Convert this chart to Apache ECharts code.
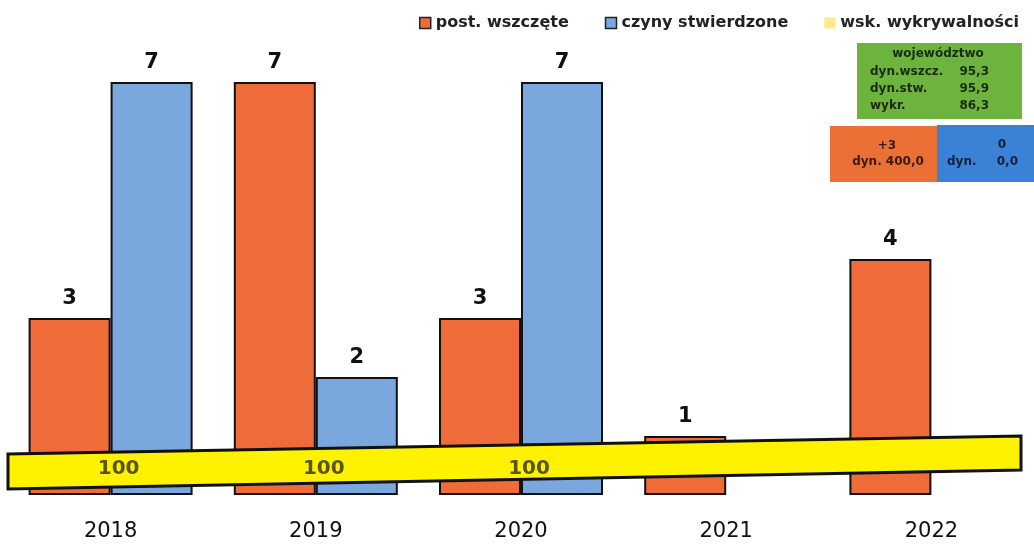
<!DOCTYPE html>
<html><head><meta charset="utf-8">
<script src="https://cdn.jsdelivr.net/npm/echarts@6/dist/echarts.min.js"></script>
<style>html,body{margin:0;padding:0;background:#fff}#c{width:1034px;height:544px}</style>
</head><body><div id="c"></div>
<script>
const years = ['2018','2019','2020','2021','2022'];
const postWszczete = [3, 7, 3, 1, 4];
const czynyStwierdzone = [7, 2, 7, null, null];
const wskWykrywalnosci = [100, 100, 100, null, null];
const seriesNames = ['post. wszczęte', 'czyny stwierdzone', 'wsk. wykrywalności'];
const regionTitle = 'województwo';
const regionRows = [['dyn.wszcz.', '95,3'], ['dyn.stw.', '95,9'], ['wykr.', '86,3']];
const changePost = ['+3', 'dyn. 400,0'];
const changeCzyny = ['0', 'dyn.', '0,0'];

const RED = '#ef6b3a', BLUE = '#7ba7df', YELLOW = '#fff200';
const chart = echarts.init(document.getElementById('c'));
const font = 'DejaVu Sans';
const boxFont = 'bold 12px "DejaVu Sans"';
chart.setOption({
  animation: false,
  textStyle: { fontFamily: font },
  legend: {
    right: 10, top: 10, itemGap: 36, itemWidth: 11, itemHeight: 11, itemSymbolTextGap: 4,
    textStyle: { fontSize: 16, fontWeight: 'bold', color: '#222', fontFamily: font },
    data: [
      { name: seriesNames[0], icon: 'rect', itemStyle: { color: RED, borderColor: '#222', borderWidth: 1.5 } },
      { name: seriesNames[1], icon: 'rect', itemStyle: { color: BLUE, borderColor: '#222', borderWidth: 1.5 } },
      { name: seriesNames[2], icon: 'rect', itemStyle: { color: '#ffe46a', borderWidth: 0 } }
    ]
  },
  grid: { left: 8, width: 1030, top: 23, bottom: 49 },
  xAxis: {
    type: 'category', data: years,
    axisLine: { show: false }, axisTick: { show: false },
    axisLabel: { fontSize: 21, color: '#111', margin: 26, fontFamily: font }
  },
  yAxis: [
    { type: 'value', min: 0, max: 8, show: false },
    { type: 'value', min: 0, max: 1700, show: false }
  ],
  graphic: [
    { type: 'polygon', z: 5,
      shape: { points: [[8, 454], [1021, 436], [1021, 470], [8, 489]] },
      style: { fill: YELLOW, stroke: '#111', lineWidth: 3 } },
    { type: 'rect', z: 1, shape: { x: 857, y: 43, width: 165, height: 76 },
      style: { fill: '#6db43f' } },
    { type: 'text', z: 2, style: { x: 938, y: 48, text: regionTitle, textAlign: 'center', font: boxFont, fill: '#1c2a10' } },
    ...regionRows.flatMap((r, i) => [
      { type: 'text', z: 2, style: { x: 870, y: 66 + i * 17, text: r[0], font: boxFont, fill: '#1c2a10' } },
      { type: 'text', z: 2, style: { x: 989, y: 66 + i * 17, text: r[1], textAlign: 'right', font: boxFont, fill: '#1c2a10' } }
    ]),
    { type: 'rect', z: 1, shape: { x: 830, y: 126, width: 107, height: 56 }, style: { fill: '#ea7036' } },
    { type: 'rect', z: 1, shape: { x: 937, y: 125, width: 97, height: 57 }, style: { fill: '#3b82d6' } },
    { type: 'text', z: 2, style: { x: 887, y: 140, text: changePost[0], textAlign: 'center', font: boxFont, fill: '#3a1a0a' } },
    { type: 'text', z: 2, style: { x: 888, y: 156, text: changePost[1], textAlign: 'center', font: boxFont, fill: '#3a1a0a' } },
    { type: 'text', z: 2, style: { x: 1002, y: 139, text: changeCzyny[0], textAlign: 'center', font: boxFont, fill: '#10203a' } },
    { type: 'text', z: 2, style: { x: 947, y: 156, text: changeCzyny[1], font: boxFont, fill: '#10203a' } },
    { type: 'text', z: 2, style: { x: 1018, y: 156, text: changeCzyny[2], textAlign: 'right', font: boxFont, fill: '#10203a' } }
  ],
  series: [
    { name: seriesNames[0], type: 'bar', data: postWszczete, barWidth: 82, barGap: '0%',
      itemStyle: { color: RED, borderColor: '#111', borderWidth: 2 },
      label: { show: true, position: 'top', distance: 9, fontSize: 21, fontWeight: 'bold', color: '#111' } },
    { name: seriesNames[1], type: 'bar', data: czynyStwierdzone, barWidth: 82,
      itemStyle: { color: BLUE, borderColor: '#111', borderWidth: 2 },
      label: { show: true, position: 'top', distance: 9, fontSize: 21, fontWeight: 'bold', color: '#111' } },
    { name: seriesNames[2], type: 'scatter', yAxisIndex: 1, data: wskWykrywalnosci, z: 10,
      symbol: 'rect', symbolSize: 1, itemStyle: { color: 'rgba(0,0,0,0)' },
      label: { show: true, position: 'inside', fontSize: 20, fontWeight: 'bold', color: '#2e2e10', offset: [8, 2] } }
  ]
});
</script></body></html>
